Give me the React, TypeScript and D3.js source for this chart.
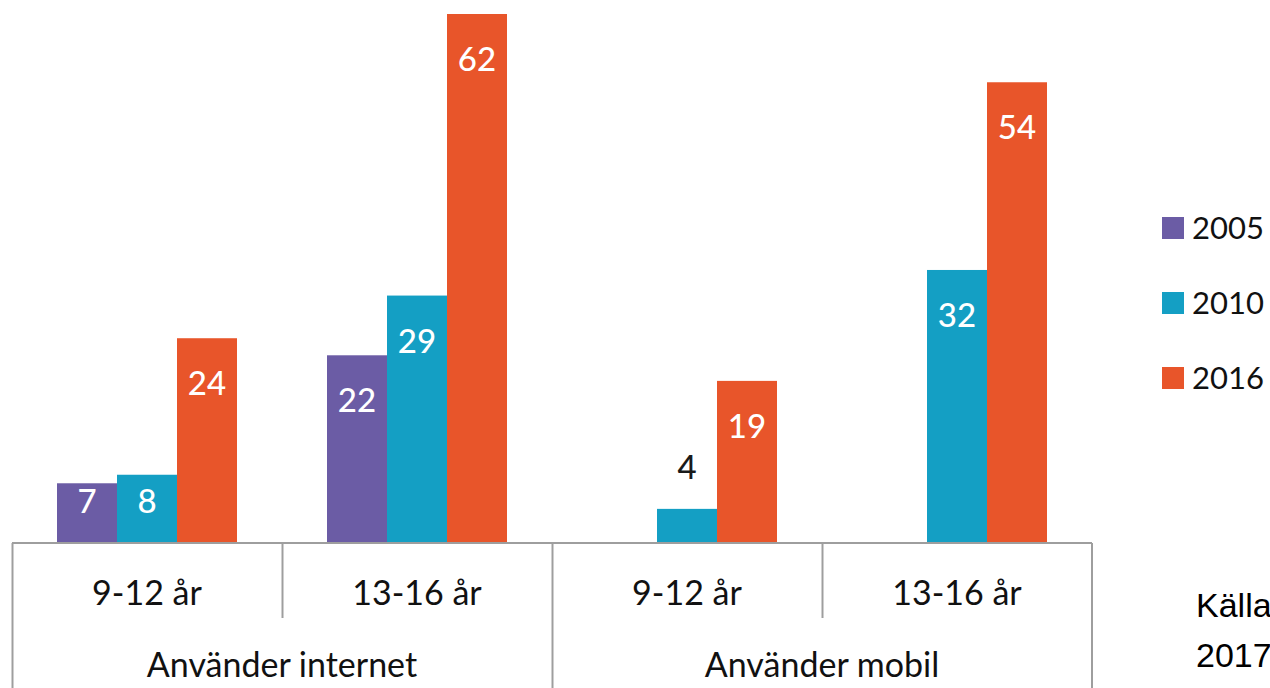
import React from "react";
import * as d3 from "d3";

const groups = ["Använder internet", "Använder mobil"];
const ages = ["9-12 år", "13-16 år"];
const categories = [
  { group: "Använder internet", age: "9-12 år" },
  { group: "Använder internet", age: "13-16 år" },
  { group: "Använder mobil", age: "9-12 år" },
  { group: "Använder mobil", age: "13-16 år" },
];
const years = ["2005", "2010", "2016"];
const values2005: (number | null)[] = [7, 22, null, null];
const values2010: (number | null)[] = [8, 29, 4, 32];
const values2016: (number | null)[] = [24, 62, 19, 54];
const seriesValues = [values2005, values2010, values2016];
const colors = ["#6B5CA5", "#149FC4", "#E8552A"];
const sourceLines = ["Källa", "2017"];

const W = 1270;
const H = 688;
const FONT = "Lato, 'Open Sans', sans-serif";

export default function App() {
  const left = 12;
  const right = 1092;
  const baseY = 543;
  const x0 = d3
    .scaleBand<number>()
    .domain(categories.map((_, i) => i))
    .range([left, right])
    .paddingInner(0)
    .paddingOuter(0);
  const x1 = d3
    .scaleBand<string>()
    .domain(years)
    .range([45, x0.bandwidth() - 45])
    .padding(0);
  const y = d3.scaleLinear().domain([0, 62]).range([baseY, 14]);
  const groupScale = d3
    .scaleBand<string>()
    .domain(groups)
    .range([left, right]);

  const axisColor = "#9E9E9E";

  return (
    <svg
      width={W}
      height={H}
      style={{ position: "absolute", left: 0, top: 0, background: "#fff" }}
    >
      {categories.map((c, ci) => (
        <g key={ci} transform={`translate(${x0(ci)},0)`}>
          {years.map((yr, si) => {
            const v = seriesValues[si][ci];
            if (v == null) return null;
            const bx = x1(yr)!;
            const bw = x1.bandwidth();
            const top = y(v);
            const inside = baseY - top > 45;
            return (
              <g key={yr}>
                <rect
                  x={bx}
                  y={top}
                  width={bw}
                  height={baseY - top}
                  fill={colors[si]}
                />
                <text
                  x={bx + bw / 2}
                  y={inside ? Math.min(top + 57, baseY - 30) : top - 30}
                  textAnchor="middle"
                  fontFamily={FONT}
                  fontSize={33}
                  fontWeight={500}
                  fill={inside ? "#ffffff" : "#1a1a1a"}
                >
                  {v}
                </text>
              </g>
            );
          })}
          <text
            x={x0.bandwidth() / 2}
            y={605}
            textAnchor="middle"
            fontFamily={FONT}
            fontSize={34}
            fill="#111"
          >
            {c.age}
          </text>
        </g>
      ))}
      {/* axis lines */}
      <line x1={left} x2={right} y1={baseY} y2={baseY} stroke={axisColor} strokeWidth={2} />
      {categories.map((_, ci) => {
        const xx = x0(ci)!;
        const full = ci % 2 === 0;
        return (
          <line
            key={ci}
            x1={xx + 0.5}
            x2={xx + 0.5}
            y1={baseY}
            y2={full ? H : 618}
            stroke={axisColor}
            strokeWidth={2}
          />
        );
      })}
      <line x1={right} x2={right} y1={baseY} y2={H} stroke={axisColor} strokeWidth={2} />
      {groups.map((g) => (
        <text
          key={g}
          x={groupScale(g)! + groupScale.bandwidth() / 2}
          y={677}
          textAnchor="middle"
          fontFamily={FONT}
          fontSize={34}
          fill="#111"
        >
          {g}
        </text>
      ))}
      {/* legend */}
      {years.map((yr, i) => (
        <g key={yr} transform={`translate(1162,${217 + i * 75})`}>
          <rect x={0} y={0} width={22} height={22} fill={colors[i]} />
          <text x={30} y={22} fontFamily={FONT} fontSize={31} fill="#111">
            {yr}
          </text>
        </g>
      ))}
      {sourceLines.map((t, i) => (
        <text
          key={i}
          x={1196}
          y={617 + i * 50}
          fontFamily="'Liberation Sans', Arial, sans-serif"
          fontSize={34}
          fill="#000"
        >
          {t}
        </text>
      ))}
    </svg>
  );
}
